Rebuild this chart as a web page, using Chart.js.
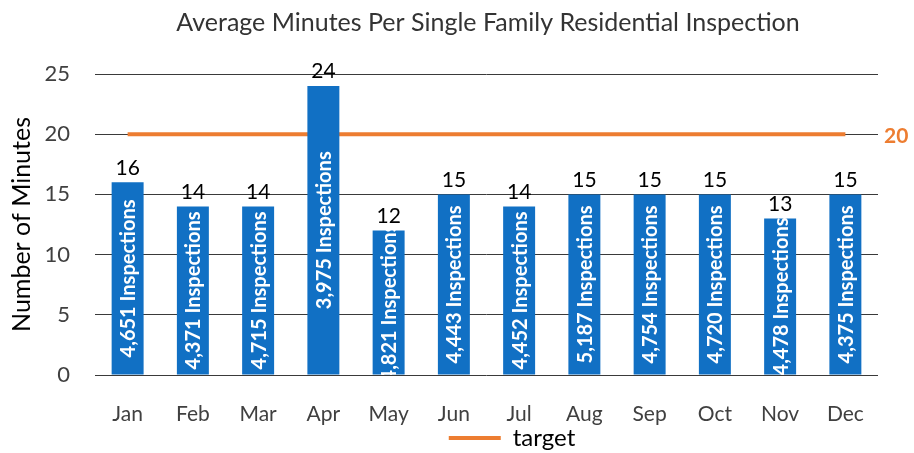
<!DOCTYPE html>
<html lang="en">
<head>
    <meta charset="UTF-8">
    <title>Average Minutes Per Single Family Residential Inspection</title>
    <script src="https://cdn.jsdelivr.net/npm/chart.js@4.4.0/dist/chart.umd.min.js"></script>
    <style>
        body { margin: 0; background: #fff; }
    </style>
</head>
<body>
<canvas id="myChart" width="914" height="453"></canvas>
<script>
    var title = 'Average Minutes Per Single Family Residential Inspection';
    var months = ['Jan', 'Feb', 'Mar', 'Apr', 'May', 'Jun', 'Jul', 'Aug', 'Sep', 'Oct', 'Nov', 'Dec'];
    var minutes = [16, 14, 14, 24, 12, 15, 14, 15, 15, 15, 13, 15];
    var inspections = ['4,651', '4,371', '4,715', '3,975', '4,821', '4,443', '4,452', '5,187', '4,754', '4,720', '4,478', '4,375'];
    var target = [20, 20, 20, 20, 20, 20, 20, 20, 20, 20, 20, 20];
    var yTicks = [0, 5, 10, 15, 20, 25];

    var blue = '#1170C4';
    var orange = '#ED7D31';
    var font = 'Lato, "Open Sans", sans-serif';

    // title (sits off-centre in the original), bar labels and the "20" at the end of the target line
    var labelsPlugin = {
        id: 'barLabels',
        afterLayout: function (chart) {
            // legend in the original is centred further right than the plot, and a bit lower
            chart.legend.left += 146;
            chart.legend.top += 7;
            chart.legend.bottom += 7;
            // give the month labels room so they are not clipped
            chart.scales.x.bottom += 15;
        },
        afterDatasetsDraw: function (chart) {
            var ctx = chart.ctx;
            var area = chart.chartArea;
            var bars = chart.getDatasetMeta(1).data;
            ctx.save();
            bars.forEach(function (bar, i) {
                ctx.fillStyle = '#000';
                ctx.font = '21px ' + font;
                ctx.textAlign = 'center';
                ctx.textBaseline = 'bottom';
                ctx.fillText(minutes[i], bar.x, bar.y - 4);

                // count runs up the middle of the bar, cut off at the axis like the original
                ctx.save();
                ctx.beginPath();
                ctx.rect(area.left, area.top, area.right - area.left, area.bottom - area.top);
                ctx.clip();
                ctx.translate(bar.x, (bar.y + bar.base) / 2);
                ctx.rotate(-Math.PI / 2);
                ctx.fillStyle = '#fff';
                ctx.font = 'bold 20px ' + font;
                ctx.textAlign = 'center';
                ctx.textBaseline = 'middle';
                ctx.fillText(inspections[i] + ' Inspections', 0, 1);
                ctx.restore();
            });
            var pts = chart.getDatasetMeta(0).data;
            var last = pts[pts.length - 1];
            ctx.fillStyle = orange;
            ctx.font = 'bold 21px ' + font;
            ctx.textAlign = 'left';
            ctx.textBaseline = 'middle';
            ctx.fillText(target[target.length - 1], area.right + 6, last.y + 2);

            ctx.fillStyle = '#333';
            ctx.font = '25px ' + font;
            ctx.textAlign = 'center';
            ctx.fillText(title, 488, 23);
            ctx.restore();
        }
    };

    var ctx = document.querySelector('#myChart').getContext('2d');
    new Chart(ctx, {
        type: 'bar',
        data: {
            labels: months,
            datasets: [{
                type: 'line',
                label: 'target',
                data: target,
                borderColor: orange,
                backgroundColor: orange,
                borderWidth: 4,
                pointRadius: 0,
                fill: false,
                order: 2
            }, {
                label: 'minutes',
                data: minutes,
                backgroundColor: blue,
                barPercentage: 0.49,
                categoryPercentage: 1,
                order: 1
            }]
        },
        options: {
            responsive: false,
            animation: false,
            layout: { padding: { left: 0, right: 36, top: 74, bottom: 0 } },
            plugins: {
                title: { display: false },
                legend: {
                    position: 'bottom',
                    labels: {
                        color: '#333',
                        font: { family: font, size: 24, lineHeight: 1 },
                        boxWidth: 52,
                        boxHeight: 4,
                        padding: 0,
                        generateLabels: function () {
                            return [{ text: 'target', fillStyle: orange, strokeStyle: orange, lineWidth: 0, datasetIndex: 0 }];
                        }
                    }
                },
                tooltip: { enabled: false }
            },
            scales: {
                x: {
                    grid: { display: false },
                    border: { display: false },
                    ticks: { color: '#404040', font: { family: font, size: 21 }, padding: 19 },
                    afterFit: function (axis) { axis.height = 44; }
                },
                y: {
                    min: 0,
                    max: 25,
                    afterBuildTicks: function (axis) {
                        axis.ticks = yTicks.map(function (v) { return { value: v }; });
                    },
                    afterFit: function (axis) { axis.width = 95; },
                    grid: { color: '#3a3a3a', drawTicks: false },
                    border: { display: false },
                    ticks: { color: '#404040', font: { family: font, size: 22 }, padding: 25 },
                    title: {
                        display: true,
                        text: 'Number of Minutes',
                        color: '#000',
                        font: { family: font, size: 25 },
                        padding: { top: 7, bottom: 0 }
                    }
                }
            }
        },
        plugins: [labelsPlugin]
    });
</script>
</body>
</html>
